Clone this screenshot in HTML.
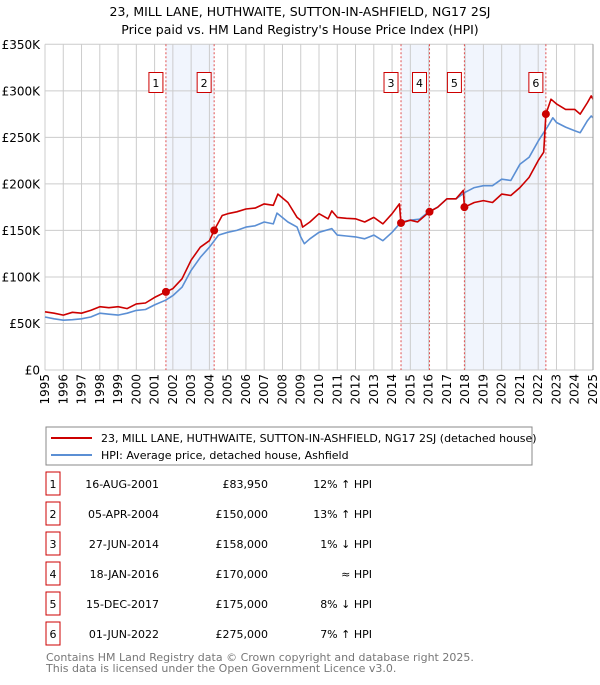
<!DOCTYPE html>
<html><head><meta charset="utf-8"><style>
body{margin:0;background:#fff;font-family:"Liberation Sans","DejaVu Sans",sans-serif}
svg text{font-family:"DejaVu Sans","Liberation Sans",sans-serif}
</style></head><body>
<svg id="c" width="600" height="680" viewBox="0 0 600 680" xmlns="http://www.w3.org/2000/svg">
<text x="300" y="16" text-anchor="middle" font-size="12.5">23, MILL LANE, HUTHWAITE, SUTTON-IN-ASHFIELD, NG17 2SJ</text>
<text x="300" y="34" text-anchor="middle" font-size="12.5">Price paid vs. HM Land Registry's House Price Index (HPI)</text>
<g id="plot"></g>
<g>
<rect x="46" y="427" width="486" height="38" fill="#fff" stroke="#888"/>
<line x1="51" y1="438" x2="92" y2="438" stroke="#cc0000" stroke-width="2"/>
<text x="101" y="442" font-size="11">23, MILL LANE, HUTHWAITE, SUTTON-IN-ASHFIELD, NG17 2SJ (detached house)</text>
<line x1="51" y1="455" x2="92" y2="455" stroke="#5b8fd4" stroke-width="2"/>
<text x="101" y="459" font-size="11">HPI: Average price, detached house, Ashfield</text>
</g>
<g id="table"></g>
<text x="46" y="661" font-size="11" fill="#777">Contains HM Land Registry data © Crown copyright and database right 2025.</text>
<text x="46" y="672" font-size="11" fill="#777">This data is licensed under the Open Government Licence v3.0.</text>
</svg>
<script>
const yTicks=[0,50,100,150,200,250,300,350];
const yTickLabels=["£0","£50K","£100K","£150K","£200K","£250K","£300K","£350K"];
const years=[1995,1996,1997,1998,1999,2000,2001,2002,2003,2004,2005,2006,2007,2008,2009,2010,2011,2012,2013,2014,2015,2016,2017,2018,2019,2020,2021,2022,2023,2024,2025];
const saleT=[2001.62,2004.26,2014.49,2016.05,2017.96,2022.42];
const saleV=[83.95,150,158,170,175,275];
const saleDates=["16-AUG-2001","05-APR-2004","27-JUN-2014","18-JAN-2016","15-DEC-2017","01-JUN-2022"];
const salePrices=["£83,950","£150,000","£158,000","£170,000","£175,000","£275,000"];
const saleHpi=["12% ↑ HPI","13% ↑ HPI","1% ↓ HPI","≈ HPI","8% ↓ HPI","7% ↑ HPI"];
const redT=[1995,1995.5,1996,1996.5,1997,1997.5,1998,1998.5,1999,1999.5,2000,2000.5,2001,2001.62,2002,2002.5,2003,2003.5,2004,2004.26,2004.7,2005,2005.5,2006,2006.5,2007,2007.5,2007.75,2008.3,2008.8,2009,2009.1,2009.5,2010,2010.5,2010.7,2011,2011.5,2012,2012.5,2013,2013.5,2014,2014.4,2014.49,2015,2015.4,2016.05,2016.5,2017,2017.5,2017.9,2017.96,2018.5,2019,2019.5,2020,2020.5,2021,2021.5,2022,2022.3,2022.42,2022.7,2023,2023.5,2024,2024.3,2024.7,2024.9,2025];
const redV=[62.5,61,59,62,61,64,68,67,68,66,71,72,78,83.95,87.5,98,118,132,139,150,166,168,170,173,174,178.5,177,189,180,164,161,153.6,159,168,162.5,171,164,163,162.5,159,164,157,168,178.5,158,161,159,170,175,184,184,193,175,180,182,180,189,187.5,196,207,225,234,275,291,286,280,280,275,287.5,294.6,291];
const hpiT=[1995,1995.5,1996,1996.5,1997,1997.5,1998,1998.5,1999,1999.5,2000,2000.5,2001,2001.6,2002,2002.5,2003,2003.5,2004,2004.5,2005,2005.5,2006,2006.5,2007,2007.5,2007.7,2008.3,2008.8,2009,2009.2,2009.5,2010,2010.7,2011,2011.5,2012,2012.5,2013,2013.5,2014,2014.5,2015,2015.5,2016,2016.5,2017,2017.5,2018,2018.5,2019,2019.5,2020,2020.5,2021,2021.5,2022,2022.5,2022.8,2023,2023.5,2024,2024.3,2024.7,2024.9,2025];
const hpiV=[57,55,53.5,54,55,57,61,60,59,61,64,65,70,75,80,89,107,121,132,145,148,150,153.6,155,159,157,168.6,159,153.6,143,135.7,141,148,152,145,144,143,141,145,139,148,159,161,162,170,175,184,184,191,196,198,198,205,203.6,221,228.6,246,261,271,266,261,257,255,268,273,271];
const NS="http://www.w3.org/2000/svg";
const X0=45,X1=593,Y0=370,Y1=44.3;
const x=t=>X0+(t-1995)*(X1-X0)/30;
const y=v=>Y0-v*(Y0-Y1)/350;
function mk(tag,attrs,parent){const e=document.createElementNS(NS,tag);for(const k in attrs)e.setAttribute(k,attrs[k]);parent.appendChild(e);return e;}
const g=document.getElementById('plot');
// shaded spans
for(let i=0;i<6;i+=2){const r=mk('rect',{x:x(saleT[i]),y:Y1,width:x(saleT[i+1])-x(saleT[i]),height:Y0-Y1,fill:'#eef3fc',opacity:0.8},g);

}
// grid
years.forEach(yr=>{const l=mk('line',{x1:x(yr),x2:x(yr),y1:Y1,y2:Y0,stroke:'#ccc','stroke-width':1},g);


const t=mk('text',{x:0,y:0,'font-size':12,'text-anchor':'end',transform:`translate(${x(yr)+4},374) rotate(-90)`},g);t.textContent=yr;

});
yTicks.forEach((v,i)=>{const l=mk('line',{x1:X0,x2:X1,y1:y(v),y2:y(v),stroke:'#ccc','stroke-width':1},g);


const t=mk('text',{x:40,y:y(v)+4.5,'font-size':12,'text-anchor':'end'},g);t.textContent=yTickLabels[i];

});
// sale markers lines and boxes
saleT.forEach((t,i)=>{const l=mk('line',{x1:x(t),x2:x(t),y1:Y1,y2:Y0,stroke:'#e05050','stroke-width':1,'stroke-dasharray':'2,2'},g);


const bx=x(t)-10-(i%2==0?0:0);
const r=mk('rect',{x:x(t)-17,y:72.5,width:14,height:20,fill:'#fff',stroke:'#cc0000'},g);


const tx=mk('text',{x:x(t)-10,y:87,'font-size':11,'text-anchor':'middle'},g);tx.textContent=i+1;

});
function line(T,V,col,name){const d=T.map((t,i)=>(i?'L':'M')+x(t).toFixed(1)+','+y(V[i]).toFixed(1)).join('');
const p=mk('path',{d:d,fill:'none',stroke:col,'stroke-width':1.6,'stroke-linejoin':'round'},g);

}
line(hpiT,hpiV,'#5b8fd4','hpi-line');
line(redT,redV,'#cc0000','property-price-line');
saleT.forEach((t,i)=>{const c=mk('circle',{cx:x(t),cy:y(saleV[i]),r:4,fill:'#cc0000'},g);

});
mk('line',{x1:X1,x2:X1,y1:Y1,y2:Y0,stroke:'#999'},g);
// table
const tb=document.getElementById('table');
saleDates.forEach((d,i)=>{const yy=484+i*30;
const r=mk('rect',{x:46,y:yy-12,width:14,height:23,fill:'#fff',stroke:'#cc0000'},tb);


const vals=[[String(i+1),53,'middle','table-row-number'],[d,159,'end','table-date'],[salePrices[i],268,'end','table-price'],[saleHpi[i],372,'end','table-hpi-diff']];
vals.forEach(([s,xx,a,n])=>{const t=mk('text',{x:xx,y:yy+4,'font-size':11,'text-anchor':a},tb);t.textContent=s;

});});
</script>
</body></html>
